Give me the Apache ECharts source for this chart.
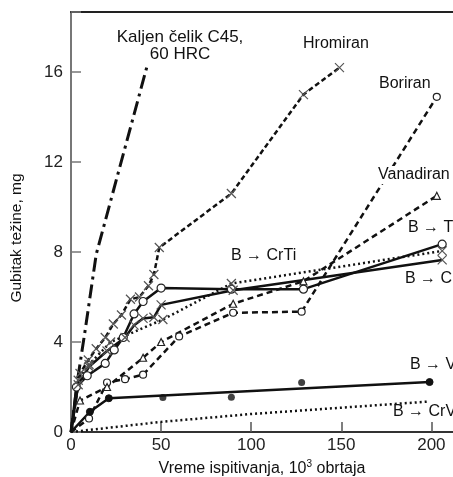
<!DOCTYPE html>
<html>
<head>
<meta charset="utf-8">
<script src="https://cdn.jsdelivr.net/npm/echarts@6/dist/echarts.min.js"></script>
<style>
html, body { margin: 0; padding: 0; background: #fff; }
#chart { width: 453px; height: 477px; }
</style>
</head>
<body>
<div id="chart"></div>
<script>
// tick labels
var xTickLabels = [0, 50, 100, 150, 200];
var yTickLabels = [0, 4, 8, 12, 16];

// serije [vreme, gubitak]
var kaljenData = [[0, 0], [4, 2.5], [8, 4.6], [14, 7.9], [42, 16.2]];
var hromiranData = [[0, 0], [5, 2.6], [9.6, 3.2], [14, 3.7], [19, 4.2], [23.5, 4.8], [28, 5.2], [33, 5.9], [38, 6.0], [43, 6.5], [46, 7.0], [49, 8.2], [89, 10.6], [129, 15.0], [149, 16.2]];
var boriranData = [[0, 0], [10, 0.6], [20, 2.2], [30, 2.35], [40, 2.55], [60, 4.25], [90, 5.3], [128, 5.35], [203, 14.9]];
var vanadiranData = [[0, 0], [5, 1.4], [20, 2.0], [40, 3.3], [50, 4.0], [90, 5.7], [129, 6.7], [203, 10.5]];
var bTiData = [[0, 0], [3, 2.0], [9, 2.5], [19, 3.05], [24, 3.65], [29, 4.2], [35, 5.25], [40, 5.8], [50, 6.4], [89, 6.35], [129, 6.35], [206, 8.35]];
var bCrData = [[0, 0], [4, 2.1], [10, 2.9], [20, 3.6], [30, 4.2], [35, 4.75], [40, 5.05], [46, 5.1], [50, 5.65], [90, 6.3], [206, 7.65]];
var bCrTiData = [[0, 0], [4, 2.3], [10, 3.0], [22, 4.0], [51, 5.0], [89, 6.6], [206, 8.05]];
var bVData = [[0, 0], [10.5, 0.9], [21, 1.5], [199, 2.22]];
var bVDots = [[51, 1.53], [89, 1.54], [128, 2.2]];
var bCrVData = [[0, 0], [50, 0.45], [100, 0.8], [198, 1.35]];

var FONT = 'Liberation Sans, Arial, sans-serif';
var crossSym = 'path://M0,0L10,10M10,0L0,10';

//prva tacka (0,0) bez markera
function pts(arr) {
	return arr.map(function (p) {
		if (p[0] === 0 && p[1] === 0) {
			return { value: p, symbol: 'none' };
		}
		return p;
	});
}

function lineSeries(name, data, dash, width, symbol, size, markerStyle) {
	return {
		name: name,
		type: 'line',
		data: pts(data),
		symbol: symbol || 'none',
		symbolSize: size || 7,
		showSymbol: !!symbol,
		showAllSymbol: true,
		animation: false,
		lineStyle: {
			color: '#111',
			width: width,
			type: dash || 'solid'
		},
		itemStyle: markerStyle || { color: '#fff', borderColor: '#111', borderWidth: 1.2 },
		z: 3
	};
}

function label(text, x, y, size, align, bg) {
	var st = { text: text, font: (size || 16) + 'px ' + FONT, fill: '#111', textAlign: align || 'left' };
	if (bg) {
		st.backgroundColor = '#fff';
		st.padding = [1, 2];
	}
	return { type: 'text', x: x, y: y, z: 11, style: st };
}

var openStyle = { color: '#fff', borderColor: '#222', borderWidth: 1.2 };
var crossStyle = { color: '#fff', borderColor: '#555', borderWidth: 1.2 };

var chart = echarts.init(document.getElementById('chart'));
var option = {
	animation: false,
	textStyle: { fontFamily: FONT },
	grid: {
		left: 71,
		top: 12,
		bottom: 45,
		right: 0,
		outerBoundsMode: 'none'
	},
	xAxis: [{
		type: 'value',
		min: 0,
		max: 212,
		interval: 50,
		name: 'Vreme ispitivanja, 10{sup|3} obrtaja',
		nameLocation: 'middle',
		nameGap: 21,
		nameTextStyle: {
			fontSize: 16, color: '#111', fontFamily: FONT,
			rich: { sup: { fontSize: 10, verticalAlign: 'top', padding: [0, 0, 9, 0], color: '#111' } }
		},
		axisLine: { lineStyle: { color: '#333', width: 2 } },
		axisTick: { inside: true, length: 10, lineStyle: { color: '#555', width: 1.5 } },
		axisLabel: {
			fontSize: 17, color: '#222', margin: 5, showMaxLabel: false,
			formatter: function (v) { return xTickLabels.indexOf(v) >= 0 ? String(v) : ''; }
		},
		splitLine: { show: false }
	}, {
		// gornja ivica
		type: 'value',
		position: 'top',
		min: 0,
		max: 212,
		axisLine: { lineStyle: { color: '#222', width: 2 } },
		axisTick: { show: false },
		axisLabel: { show: false },
		splitLine: { show: false }
	}],
	yAxis: {
		type: 'value',
		min: 0,
		max: 18.67,
		interval: 4,
		name: 'Gubitak težine, mg',
		nameLocation: 'middle',
		nameGap: 46,
		nameTextStyle: { fontSize: 15.5, color: '#111', fontFamily: FONT, padding: [0, 32, 0, 0] },
		axisLine: { lineStyle: { color: '#777', width: 2 } },
		axisTick: { inside: true, length: 10, lineStyle: { color: '#777', width: 1.5 } },
		axisLabel: {
			fontSize: 17, color: '#222', margin: 8,
			formatter: function (v) { return yTickLabels.indexOf(v) >= 0 ? String(v) : ''; }
		},
		splitLine: { show: false }
	},
	series: [
		lineSeries('Kaljen čelik C45', kaljenData, [14, 5, 3, 5], 3),
		lineSeries('Hromiran', hromiranData, [5, 3], 2.5, crossSym, 9, crossStyle),
		lineSeries('Boriran', boriranData, [6, 4], 2.5, 'circle', 7, openStyle),
		lineSeries('Vanadiran', vanadiranData, [6, 4], 2.5, 'triangle', 7, openStyle),
		lineSeries('B → Ti', bTiData, 'solid', 2.5, 'circle', 8, openStyle),
		lineSeries('B → Cr', bCrData, 'solid', 2.5, crossSym, 9, crossStyle),
		lineSeries('B → CrTi', bCrTiData, [2, 3], 2.5, crossSym, 9, crossStyle),
		lineSeries('B → V', bVData, 'solid', 2.5, 'circle', 7, { color: '#111', borderColor: '#111', borderWidth: 1 }),
		{
			name: 'B → V tacke',
			type: 'scatter',
			data: bVDots,
			symbol: 'circle',
			symbolSize: 7,
			itemStyle: { color: '#111' },
			animation: false,
			z: 3
		},
		lineSeries('B → CrV', bCrVData, [2, 3], 2.5)
	],
	graphic: [
		{ type: 'rect', shape: { x: 110, y: 27, width: 142, height: 40 }, style: { fill: '#fff' }, z: 10 },
		label('Kaljen čelik C45,', 180, 29, 17, 'center'),
		label('60 HRC', 180, 46, 17, 'center'),
		label('Hromiran', 303, 36),
		label('Boriran', 379, 76),
		label('Vanadiran', 376, 166, 16, 'left', true),
		label('B → Ti', 408, 220),
		label('B → CrTi', 231, 248),
		label('B → Cr', 405, 271),
		label('B → V', 410, 357),
		label('B → CrV', 393, 404)
	]
};
chart.setOption(option);
</script>
</body>
</html>
